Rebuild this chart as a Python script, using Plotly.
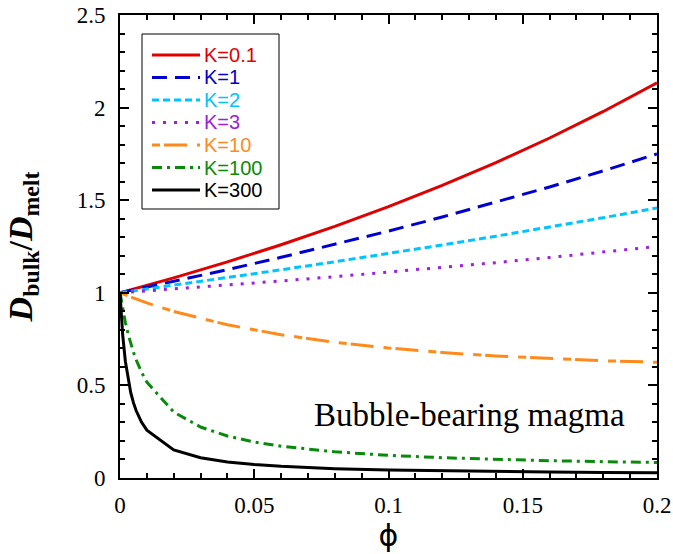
import plotly.graph_objects as go

# porosity (phi) sampling
phi_a = [0, 0.01, 0.02, 0.04, 0.06, 0.08, 0.10, 0.12, 0.14, 0.16, 0.18, 0.20]
phi_b = [0, 0.001, 0.002, 0.003, 0.004, 0.005, 0.006, 0.008, 0.01, 0.02, 0.03,
         0.04, 0.05, 0.06, 0.08, 0.10, 0.12, 0.14, 0.16, 0.18, 0.20]

# D_bulk / D_melt
k01 = [1, 1.0397, 1.0807, 1.1670, 1.2595, 1.3587, 1.4652, 1.5797, 1.7029, 1.8358, 1.9792, 2.1341]
k1 = [1, 1.0303, 1.0612, 1.1250, 1.1915, 1.2609, 1.3333, 1.4091, 1.4884, 1.5714, 1.6585, 1.7500]
k2 = [1, 1.0201, 1.0404, 1.0817, 1.1241, 1.1675, 1.2121, 1.2581, 1.3056, 1.3547, 1.4055, 1.4583]
k3 = [1, 1.0101, 1.0204, 1.0417, 1.0638, 1.0870, 1.1111, 1.1364, 1.1628, 1.1905, 1.2195, 1.2500]
k10 = [1, 0.9452, 0.8993, 0.8272, 0.7737, 0.7331, 0.7018, 0.6775, 0.6586, 0.6440, 0.6330, 0.6250]
k100 = [1, 0.9127, 0.8397, 0.7780, 0.7250, 0.6790, 0.6387, 0.5715, 0.5177, 0.3561, 0.2753,
        0.2268, 0.1946, 0.1717, 0.1414, 0.1223, 0.1094, 0.1002, 0.0933, 0.0881, 0.0841]
k300 = [1, 0.7721, 0.6295, 0.5319, 0.4609, 0.4068, 0.3644, 0.3019, 0.2582, 0.1520, 0.1096,
        0.0868, 0.0726, 0.0629, 0.0506, 0.0432, 0.0382, 0.0347, 0.0322, 0.0303, 0.0288]

names = ["K=0.1", "K=1", "K=2", "K=3", "K=10", "K=100", "K=300"]
xs = [phi_a, phi_a, phi_a, phi_a, phi_a, phi_b, phi_b]
ys = [k01, k1, k2, k3, k10, k100, k300]
colors = ["#e10000", "#0000d0", "#00c3ff", "#9b20e0", "#ff8a1c", "#0a8a0a", "#000000"]
dashes = ["solid", "15px,8px", "7px,4px", "3px,8px", "8px,4px,23px,10px",
          "10px,5px,3px,5px", "solid"]

xtick_vals = [0, 0.05, 0.1, 0.15, 0.2]
xtick_text = ["0", "0.05", "0.1", "0.15", "0.2"]
ytick_vals = [0, 0.5, 1, 1.5, 2, 2.5]
ytick_text = ["0", "0.5", "1", "1.5", "2", "2.5"]

W, H = 673, 554
ML, MR, MT, MB = 120, 16, 15, 76
PW, PH = W - ML - MR, H - MT - MB


def px_x(px):
    return (px - ML) / PW


def px_y(py):
    return (H - MB - py) / PH


fig = go.Figure()
for x, y, n, c, d in zip(xs, ys, names, colors, dashes):
    fig.add_trace(go.Scatter(
        x=x, y=y, mode="lines", name=n, showlegend=False,
        line=dict(color=c, width=3, dash=d),
    ))

serif = "Liberation Serif"
sans = "Liberation Sans"

# legend drawn as box + sample lines + coloured labels
shapes = [dict(type="rect", xref="paper", yref="paper",
               x0=px_x(142), x1=px_x(279), y0=px_y(209), y1=px_y(34),
               line=dict(color="black", width=1), fillcolor="white", layer="above")]
annotations = []
for i, (n, c, d) in enumerate(zip(names, colors, dashes)):
    row = 55 + 22.5 * i
    shapes.append(dict(type="line", xref="paper", yref="paper",
                       x0=px_x(152), x1=px_x(200), y0=px_y(row), y1=px_y(row),
                       line=dict(color=c, width=3, dash=d), layer="above"))
    annotations.append(dict(xref="paper", yref="paper", x=px_x(202), y=px_y(row),
                            text=n, showarrow=False, xanchor="left", yanchor="middle",
                            font=dict(family=sans, size=20, color=c)))

annotations.append(dict(
    x=0.130, y=0.34, xref="x", yref="y", text="Bubble-bearing magma",
    showarrow=False, xanchor="center", yanchor="middle",
    font=dict(family=serif, size=33, color="black"),
))

fig.update_layout(
    width=W, height=H,
    margin=dict(l=ML, r=MR, t=MT, b=MB),
    paper_bgcolor="white", plot_bgcolor="white",
    font=dict(family=serif, size=23, color="black"),
    showlegend=False,
    xaxis=dict(
        range=[0, 0.2], tickmode="array", tickvals=xtick_vals, ticktext=xtick_text,
        showline=True, linecolor="black", linewidth=2, mirror="allticks",
        ticks="inside", ticklen=9, tickwidth=1.5, tickcolor="black",
        showgrid=False, zeroline=False, automargin=False,
        tickfont=dict(family=serif, size=23, color="black"),
        minor=dict(dtick=0.01, ticks="inside", ticklen=5, tickwidth=1.5, tickcolor="black", showgrid=False),
        ticklabelstandoff=5,
        title=dict(text="ϕ", font=dict(family="DejaVu Sans", size=30, color="black"), standoff=7),
    ),
    yaxis=dict(
        range=[0, 2.5], tickmode="array", tickvals=ytick_vals, ticktext=ytick_text,
        showline=True, linecolor="black", linewidth=2, mirror="allticks",
        ticks="inside", ticklen=9, tickwidth=1.5, tickcolor="black",
        showgrid=False, zeroline=False, automargin=False,
        tickfont=dict(family=serif, size=23, color="black"),
        minor=dict(dtick=0.1, ticks="inside", ticklen=5, tickwidth=1.5, tickcolor="black", showgrid=False),
        ticklabelstandoff=8,
        title=dict(text="<b><i>D</i><sub>bulk</sub>/<i>D</i><sub>melt</sub></b>",
                   font=dict(family=serif, size=34, color="black"), standoff=34),
    ),
    shapes=shapes,
    annotations=annotations,
)

fig.write_html("out.html")
